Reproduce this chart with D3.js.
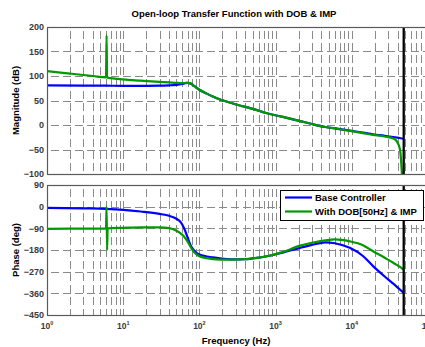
<!DOCTYPE html>
<html>
<head>
<meta charset="utf-8">
<script src="https://cdn.jsdelivr.net/npm/d3@7"></script>
<style>
  body { margin: 0; background: #fff; }
  text { font-family: "Liberation Sans", Arial, sans-serif; font-weight: bold; }
</style>
</head>
<body>
<div id="chart"></div>
<script>
// ---- data ----
const DECADES = [1, 10, 100, 1000, 10000, 100000]
const MAG_TICKS = [200, 150, 100, 50, 0, -50, -100]
const PHASE_TICKS = [90, 0, -90, -180, -270, -360, -450]
const NYQUIST = 48000
const SERIES_NAMES = ["Base Controller", "With DOB[50Hz] & IMP"]

const baseFreq  = [1, 3, 6, 10, 17, 30, 40, 50, 55, 60, 65, 70, 76, 83, 90, 100, 125, 150, 186, 275, 400, 500, 770, 1200, 2100, 3000, 4500, 6000, 9400, 14000, 19000, 27000, 35000, 42000, 48000]
const baseMag   = [81, 80.5, 80.2, 80, 80, 80.3, 81, 82, 82.8, 84, 85.2, 86, 85, 81, 77, 72, 64, 58, 52, 44, 37, 33, 24, 17, 8, 2, -4, -7, -11.5, -15.5, -19, -22, -24.5, -26.5, -28]
const basePhase = [-5, -7, -9, -13, -20, -30, -38, -50, -60, -76, -100, -128, -158, -178, -190, -199, -207, -211, -215, -219, -218, -215, -206, -192, -171, -159, -148, -152, -171, -205, -247, -290, -320, -342, -358]

const dobFreq  = [1, 2, 4, 5.95, 6.05, 6.15, 6.25, 10, 17, 30, 40, 50, 55, 60, 65, 70, 76, 83, 90, 100, 125, 150, 186, 275, 400, 500, 770, 1200, 2100, 3000, 4500, 6000, 9400, 14000, 19000, 27000, 35000, 38800, 42900, 45100, 46500, 48000]
const dobMag   = [110, 105, 100, 97.2, 183, 96.9, 96.7, 93, 90.5, 88, 87, 86, 85.7, 85.5, 85.7, 86, 85, 81, 77, 72, 64, 58, 52, 44, 37, 33, 24, 17, 8, 2, -4, -7, -12, -16.5, -20, -23.5, -27.5, -33, -50, -90, -130, -200]
const dobPhase = [-92, -91.5, -91, -90, 0, -180, -90, -88, -86, -86, -89, -100, -108, -118, -130, -145, -165, -185, -196, -206, -214, -218, -220, -220, -218, -215, -206, -190, -162, -150, -140, -136, -144, -160, -185, -212, -233, -242, -250, -255, -258, -262]

// ---- layout ----
const W = 425, H = 347
const LEFT = 47, RIGHT = 428
const MAG = {TOP: 27, BOTTOM: 174}
const PHASE = {TOP: 185, BOTTOM: 315}
const BLUE = "#0000ff", GREEN = "#009900"
const GRID = "#8a8a8a", FRAME = "#5a5a5a", TICKTEXT = "#3a3a3a"

const svg = d3.select("#chart").append("svg")
    .attr("width", W)
    .attr("height", H)

const x = d3.scaleLog().domain([1, 1e5]).range([LEFT, RIGHT])
const yMag = d3.scaleLinear().domain([-100, 200]).range([MAG.BOTTOM, MAG.TOP])
const yPhase = d3.scaleLinear().domain([-450, 90]).range([PHASE.BOTTOM, PHASE.TOP])

// minor + major log positions for the vertical grid
const gridFreqs = []
DECADES.slice(0, -1).forEach(d => { for (let k = 1; k <= 9; k++) gridFreqs.push(d * k) })
gridFreqs.push(1e5)

function panel(name, box, y, ticks, series, label) {
    const g = svg.append("g")
    const clipId = "clip-" + name
    svg.append("clipPath").attr("id", clipId)
       .append("rect")
       .attr("x", LEFT).attr("y", box.TOP)
       .attr("width", RIGHT - LEFT).attr("height", box.BOTTOM - box.TOP)

    // grid
    g.append("g").selectAll("line").data(gridFreqs.slice(1, -1)).enter().append("line")
        .attr("x1", d => Math.round(x(d)) + 0.5).attr("x2", d => Math.round(x(d)) + 0.5)
        .attr("y1", box.TOP).attr("y2", box.BOTTOM)
        .attr("stroke", GRID).attr("stroke-dasharray", "8,4")
        .attr("stroke-dashoffset", -4)
    g.append("g").selectAll("line").data(ticks.slice(1, -1)).enter().append("line")
        .attr("x1", LEFT).attr("x2", RIGHT)
        .attr("y1", d => Math.round(y(d)) + 0.5).attr("y2", d => Math.round(y(d)) + 0.5)
        .attr("stroke", GRID).attr("stroke-dasharray", "8,4")
        .attr("stroke-dashoffset", -4)

    // y axis labels
    const yAxis = d3.axisLeft(y).tickValues(ticks).tickSize(0).tickPadding(3)
    const ya = g.append("g").attr("transform", `translate(${LEFT},0)`).call(yAxis)
    ya.select(".domain").remove()
    ya.selectAll("text").attr("fill", TICKTEXT).attr("font-size", 9)
        .style("font-family", '"Liberation Sans", Arial, sans-serif').style("font-weight", "bold")

    // curves
    const line = d3.line().x(d => x(d[0])).y(d => y(d[1])).curve(d3.curveMonotoneX)
    const plot = g.append("g").attr("clip-path", `url(#${clipId})`)
    series.forEach(s => {
        plot.append("path")
            .datum(s.f.map((f, i) => [f, s.v[i]]))
            .attr("d", line)
            .attr("fill", "none")
            .attr("stroke", s.color)
            .attr("stroke-width", 2.2)
            .attr("stroke-linejoin", "round")
    })

    // nyquist marker
    g.append("line")
        .attr("x1", x(NYQUIST)).attr("x2", x(NYQUIST))
        .attr("y1", box.TOP).attr("y2", box.BOTTOM)
        .attr("stroke", "#000").attr("stroke-width", 2.3)

    // frame
    g.append("rect")
        .attr("x", LEFT + 0.5).attr("y", box.TOP + 0.5)
        .attr("width", RIGHT - LEFT).attr("height", box.BOTTOM - box.TOP)
        .attr("fill", "none").attr("stroke", FRAME).attr("stroke-width", 1.2)

    // y label
    g.append("text")
        .attr("transform", `translate(19,${(box.TOP + box.BOTTOM) / 2}) rotate(-90)`)
        .attr("text-anchor", "middle")
        .attr("font-size", 9.5)
        .text(label)
    return g
}

panel("mag", MAG, yMag, MAG_TICKS, [
    {f: baseFreq, v: baseMag, color: BLUE},
    {f: dobFreq, v: dobMag, color: GREEN}
], "Magnitude (dB)")

panel("phase", PHASE, yPhase, PHASE_TICKS, [
    {f: baseFreq, v: basePhase, color: BLUE},
    {f: dobFreq, v: dobPhase, color: GREEN}
], "Phase (deg)")

// x tick labels 10^n (the last one runs off the right edge, as in the reference)
const xl = svg.append("g").selectAll("text").data(DECADES).enter().append("text")
    .attr("x", d => x(d))
    .attr("y", PHASE.BOTTOM + 14)
    .attr("text-anchor", "middle")
    .attr("fill", TICKTEXT)
    .attr("font-size", 8.5)
xl.append("tspan").text("10")
xl.append("tspan").attr("dy", -4).attr("font-size", 5.5).text(d => Math.round(Math.log10(d)))

// title and x label
svg.append("text")
    .attr("x", 234).attr("y", 17)
    .attr("text-anchor", "middle")
    .attr("font-size", 9.5)
    .text("Open-loop Transfer Function with DOB & IMP")

svg.append("text")
    .attr("x", 236).attr("y", 344)
    .attr("text-anchor", "middle")
    .attr("font-size", 9.5)
    .text("Frequency (Hz)")

// legend
const legend = svg.append("g")
legend.append("rect")
    .attr("x", 280.5).attr("y", 190.5).attr("width", 143).attr("height", 30)
    .attr("fill", "#fff").attr("stroke", "#000")
const legendColors = [BLUE, GREEN]
SERIES_NAMES.forEach((name, i) => {
    const ly = 197.5 + i * 14
    legend.append("line")
        .attr("x1", 285).attr("x2", 312).attr("y1", ly).attr("y2", ly)
        .attr("stroke", legendColors[i]).attr("stroke-width", 2.2)
    legend.append("text")
        .attr("x", 315).attr("y", ly + 3.5)
        .attr("font-size", 9.5)
        .text(name)
})
</script>
</body>
</html>
